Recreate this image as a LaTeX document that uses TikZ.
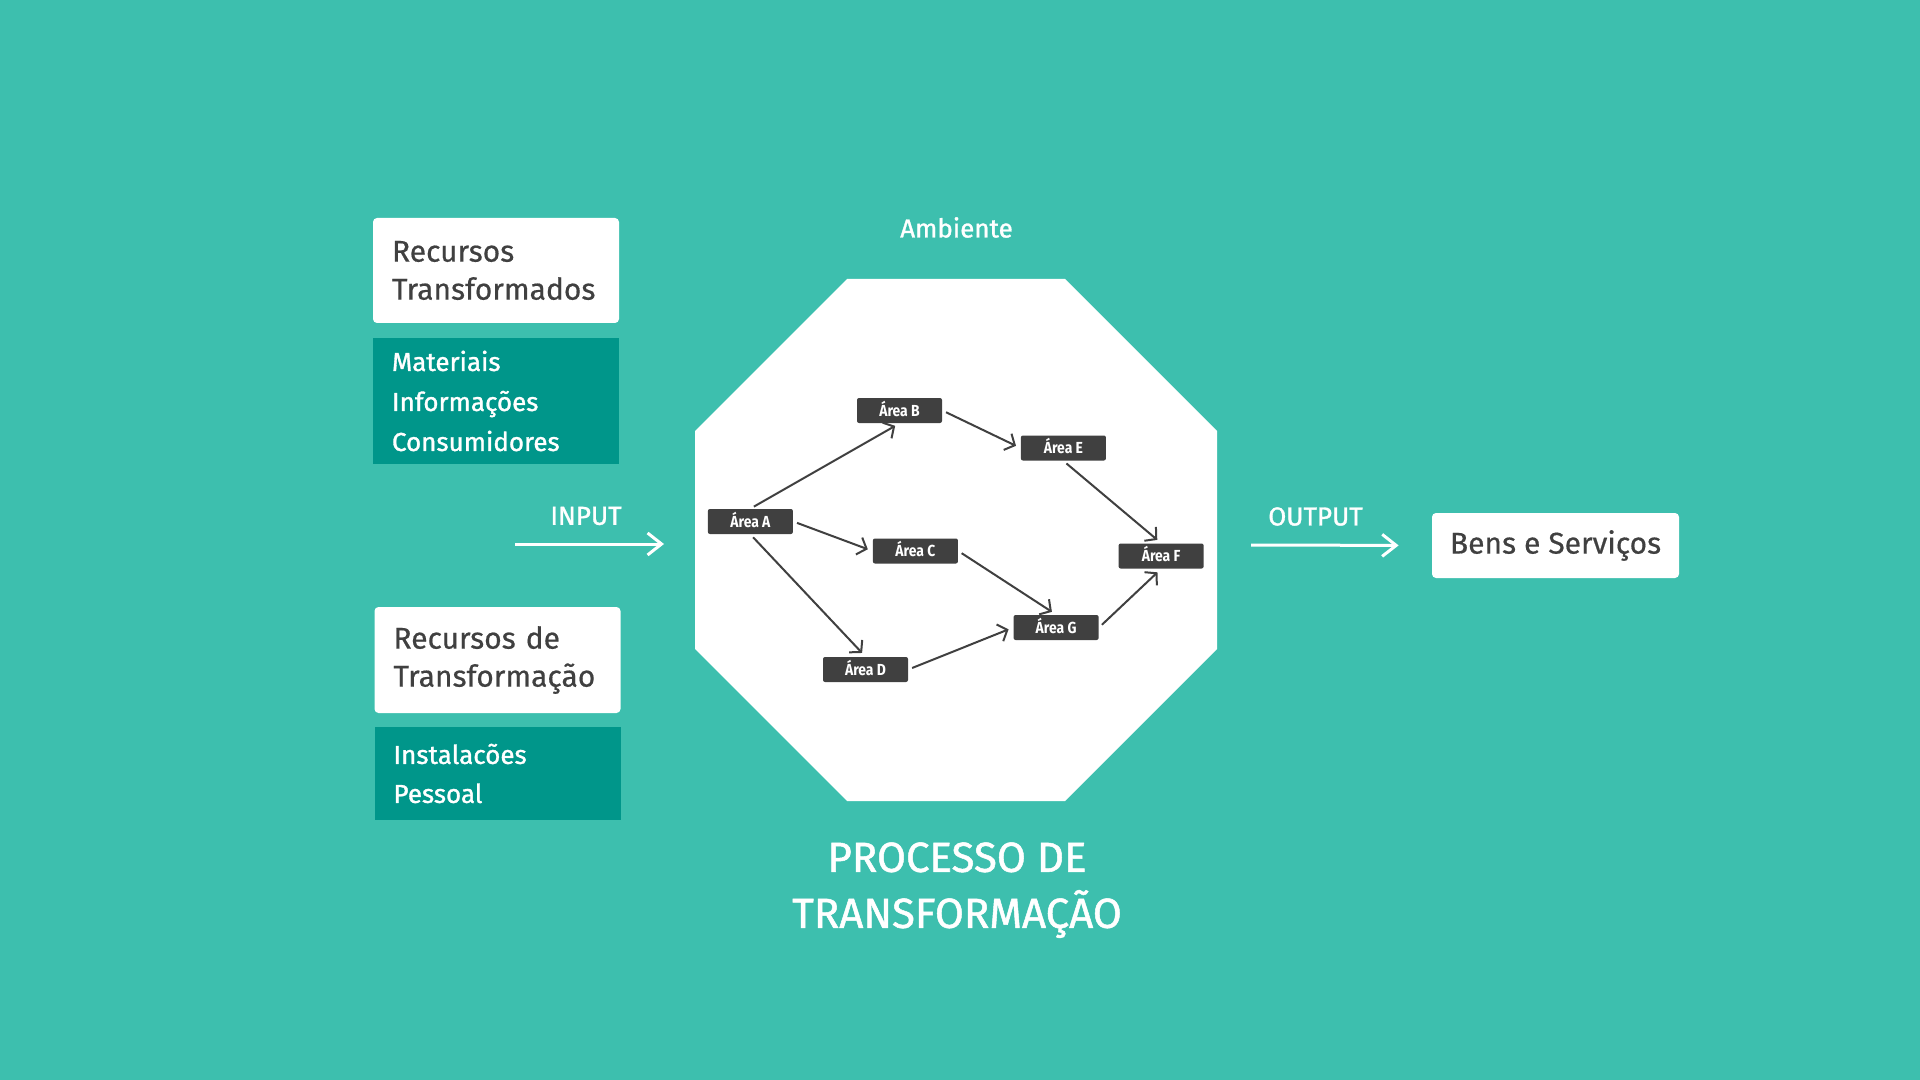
\documentclass[tikz,border=0pt]{standalone}
\usepackage{color}
\usepackage{tikz}
\usepackage{fontspec}
\setmainfont{Fira Sans}
\newfontfamily\medio{Fira Sans}[FakeBold=1.2]
\newfontfamily\livro{Fira Sans}[FakeBold=0.5]
\newfontfamily\estreita{Fira Sans}[FakeStretch=0.87]
\usetikzlibrary{arrows.meta}

\definecolor{fundo}{RGB}{61,191,174}
\definecolor{petroleo}{RGB}{0,150,138}
\definecolor{grafite}{RGB}{64,64,64}

\tikzset{
	caixa/.style={fill=white, rounded corners=2pt, text=grafite, align=left, inner xsep=9.5pt, text width=104pt, font=\livro\fontsize{15}{19}\selectfont},
	lista/.style={fill=petroleo, text=white, align=left, inner xsep=9.5pt, text width=104pt, font=\medio\fontsize{13}{20}\selectfont},
	area/.style={fill=grafite, text=white, rounded corners=1pt, minimum width=42.5pt, minimum height=12.5pt, inner sep=0pt, text height=5.5pt, text depth=0pt, font=\estreita\bfseries\fontsize{8}{9}\selectfont},
	fluxo/.style={draw=grafite, line width=1pt, -{Straight Barb[length=4pt,width=9pt]}, shorten <=2pt, shorten >=2.5pt},
	seta/.style={draw=white, line width=1.5pt, -{Straight Barb[length=7pt,width=11pt]}},
	rotulo/.style={text=white, inner sep=0pt, font=\medio\fontsize{13}{16}\selectfont}
}

\begin{document}
\begin{tikzpicture}[x=0.5pt, y=-0.5pt]
	\fill[fundo] (0,0) rectangle (1920,1080);
	\useasboundingbox (0,0) rectangle (1920,1080);

	\node[caixa, minimum height=52.5pt] (rt) at (496,270.5) {Recursos\\Transformados};
	\node[lista, minimum height=63pt] (rtl) at (496,401) {Materiais\\Informações\\Consumidores};
	\node[caixa, minimum height=53pt] (rdt) at (497.5,660) {Recursos de\\Transformação};
	\node[lista, minimum height=46.5pt, font=\medio\fontsize{13}{19.5}\selectfont] (rdtl) at (497.5,773.5) {Instalacões\\Pessoal};

	\fill[white] (847,279) -- (1065,279) -- (1217,431) -- (1217,649) -- (1065,801) -- (847,801) -- (695,649) -- (695,431) -- cycle;

	\node[area] (a) at (750.4,521.5) {Área A};
	\node[area] (b) at (899.5,410.5) {Área B};
	\node[area] (c) at (915.4,551) {Área C};
	\node[area] (d) at (865.5,669.5) {Área D};
	\node[area] (e) at (1063.4,448) {Área E};
	\node[area] (f) at (1161.1,556) {Área F};
	\node[area] (g) at (1056.1,627.5) {Área G};

	\foreach \de/\para in {a.north/b.south, b.east/e.west, e.south/f.north, a.east/c.west, a.south/d.north, c.east/g.north, d.east/g.west, g.east/f.south}
	{
		\draw[fluxo] (\de) -- (\para);
	}

	\node[rotulo] (amb) at (956.5,227.5) {Ambiente};
	\node[rotulo] (inp) at (586,516) {INPUT};
	\node[rotulo] (outp) at (1315.5,516.5) {OUTPUT};
	\node[rotulo, anchor=north, align=center, font=\medio\fontsize{21}{28}\selectfont] (proc) at (957,842) {PROCESSO DE\\TRANSFORMAÇÃO};

	\node[fill=white, rounded corners=2pt, text=grafite, minimum width=123.5pt, minimum height=32.5pt, font=\livro\fontsize{15}{18}\selectfont] (bens) at (1555.5,545.5) {Bens e Serviços};

	\coordinate (ini) at (515,544);
	\coordinate (inf) at (664,544);
	\coordinate (outi) at (1251,545);
	\draw[seta] (ini) -- (inf);
	\draw[seta, shorten >=16.5pt] (outi) -- (bens.west);
\end{tikzpicture}
\end{document}
